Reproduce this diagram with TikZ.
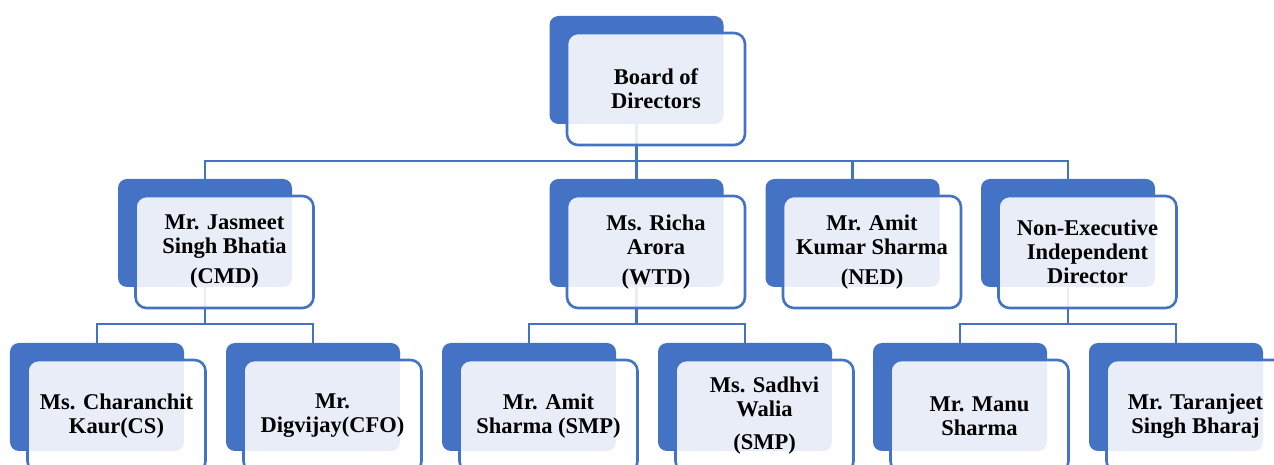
\documentclass[tikz,border=0pt]{standalone}
\usepackage{fontspec}
\setmainfont{Liberation Serif}
\definecolor{sablue}{HTML}{4472C4}
\tikzset{
  backbox/.style={fill=sablue, draw=none, rounded corners=9bp, minimum width=174bp, minimum height=108bp, inner sep=0pt},
  frontbox/.style={fill=white, fill opacity=0.88, text opacity=1, draw=sablue, draw opacity=1, line width=2.6bp, rounded corners=11bp, minimum width=178bp, minimum height=112bp, inner sep=0pt, align=center, font=\fontsize{22.5bp}{24bp}\selectfont\bfseries},
  conn/.style={draw=sablue, line width=2.8bp},
}
\newcommand{\backunit}[3]{\node[backbox] (#1b) at (#2,#3+54) {};}
\newcommand{\frontunit}[4]{\node[frontbox] (#1) at (#2+19.5,#3+73) {#4};}
\begin{document}
\begin{tikzpicture}[x={(1bp,0)}, y={(0,-1bp)}]
\clip (0,0) rectangle (1274,465);
% back boxes
\backunit{bod}{636.5}{16}
\backunit{cmd}{205}{179}
\backunit{wtd}{636.5}{179}
\backunit{ned}{852.5}{179}
\backunit{nei}{1068}{179}
\backunit{cs}{97}{343}
\backunit{cfo}{313}{343}
\backunit{smpa}{529}{343}
\backunit{smpb}{745}{343}
\backunit{manu}{960}{343}
\backunit{tara}{1176}{343}
% connectors
\coordinate (busA) at (0,161);
\coordinate (busB) at (0,324);
\draw[conn] (bodb.south) -- (bodb.south |- busA) -| (cmdb.north);
\draw[conn] (bodb.south |- busA) -| (wtdb.north);
\draw[conn] (bodb.south |- busA) -| (nedb.north);
\draw[conn] (bodb.south |- busA) -| (neib.north);
\draw[conn] (cmdb.south) -- (cmdb.south |- busB) -| (csb.north);
\draw[conn] (cmdb.south |- busB) -| (cfob.north);
\draw[conn] (wtdb.south) -- (wtdb.south |- busB) -| (smpab.north);
\draw[conn] (wtdb.south |- busB) -| (smpbb.north);
\draw[conn] (neib.south) -- (neib.south |- busB) -| (manub.north);
\draw[conn] (neib.south |- busB) -| (tarab.north);
% front boxes
\frontunit{bod}{636.5}{16}{Board of\\Directors}
\frontunit{cmd}{205}{179}{Mr. Jasmeet\\Singh Bhatia\\[6bp](CMD)}
\frontunit{wtd}{636.5}{179}{Ms. Richa\\Arora\\[6bp](WTD)}
\frontunit{ned}{852.5}{179}{Mr. Amit\\Kumar Sharma\\[6bp](NED)}
\frontunit{nei}{1068}{179}{Non-Executive\\Independent\\Director}
\frontunit{cs}{97}{343}{Ms. Charanchit\\Kaur(CS)}
\frontunit{cfo}{313}{343}{Mr.\\Digvijay(CFO)}
\frontunit{smpa}{529}{343}{Mr. Amit\\Sharma (SMP)}
\frontunit{smpb}{745}{343}{Ms. Sadhvi\\Walia\\[9bp](SMP)}
\frontunit{manu}{960}{343}{Mr. Manu\\Sharma}
\frontunit{tara}{1176}{343}{Mr. Taranjeet\\Singh Bharaj}
\end{tikzpicture}
\end{document}
